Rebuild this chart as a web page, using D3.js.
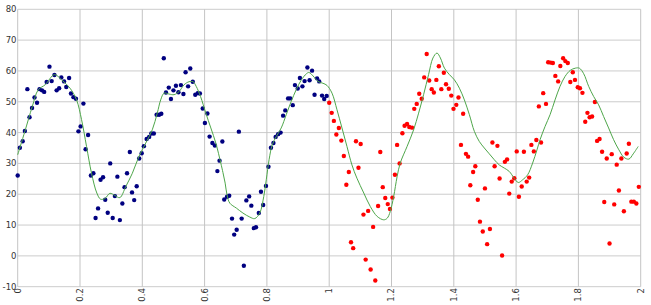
<!DOCTYPE html>
<html><head><meta charset="utf-8">
<script src="https://cdn.jsdelivr.net/npm/d3@7"></script>
<style>html,body{margin:0;padding:0;background:#fff;}svg{display:block;}</style>
</head><body><svg id="c" width="651" height="305"></svg>
<script>
const blueX=[0.000,0.007,0.016,0.023,0.031,0.038,0.046,0.054,0.062,0.070,0.078,0.085,0.093,0.102,0.109,0.118,0.125,0.133,0.140,0.149,0.156,0.165,0.171,0.179,0.187,0.195,0.202,0.211,0.218,0.226,0.235,0.243,0.250,0.258,0.266,0.274,0.281,0.289,0.297,0.305,0.312,0.320,0.328,0.336,0.343,0.351,0.360,0.367,0.374,0.382,0.390,0.398,0.405,0.414,0.422,0.429,0.437,0.446,0.454,0.461,0.469,0.476,0.485,0.492,0.500,0.508,0.516,0.524,0.532,0.539,0.547,0.554,0.562,0.570,0.578,0.585,0.594,0.601,0.609,0.616,0.625,0.633,0.641,0.648,0.657,0.663,0.672,0.679,0.688,0.695,0.703,0.710,0.719,0.726,0.734,0.743,0.750,0.758,0.765,0.774,0.781,0.788,0.797,0.805,0.813,0.821,0.828,0.836,0.844,0.852,0.859,0.868,0.875,0.883,0.890,0.899,0.906,0.914,0.921,0.930,0.937,0.945,0.953,0.961,0.968,0.977,0.984,0.992];
const blueY=[26.1,35.1,37.2,40.5,54.1,45.0,48.0,51.4,49.7,54.1,53.7,53.2,56.4,61.4,56.7,58.7,53.7,54.4,57.9,56.6,54.8,57.7,52.7,51.5,51.0,40.4,42.0,49.4,34.6,39.2,26.1,26.8,12.3,15.4,24.7,25.5,18.2,14.0,30.0,12.3,19.4,25.7,11.6,17.0,22.3,26.8,33.7,20.6,18.1,22.6,31.6,33.3,35.6,37.9,38.6,39.7,39.7,45.8,45.8,46.1,64.1,53.0,54.6,50.9,53.7,55.2,53.1,55.4,52.5,59.6,55.0,60.8,56.5,52.3,52.8,52.7,47.8,43.1,46.2,38.7,36.6,35.8,27.5,30.9,37.1,18.3,19.2,19.5,12.1,6.9,8.5,40.3,12.1,-3.2,18.0,19.3,16.3,9.0,9.3,13.9,20.8,16.5,22.7,28.9,35.1,36.6,38.6,39.5,40.0,45.5,47.2,51.1,51.1,48.9,55.4,54.3,57.7,55.0,56.7,61.1,57.0,60.1,52.3,57.6,56.6,52.0,50.9,51.9];
const redX=[1.000,1.008,1.015,1.023,1.031,1.039,1.047,1.055,1.063,1.070,1.077,1.086,1.094,1.101,1.110,1.117,1.125,1.133,1.141,1.148,1.157,1.164,1.172,1.180,1.188,1.195,1.203,1.211,1.218,1.226,1.235,1.242,1.250,1.257,1.266,1.273,1.281,1.289,1.297,1.305,1.313,1.321,1.329,1.336,1.344,1.352,1.360,1.368,1.375,1.384,1.392,1.399,1.408,1.415,1.423,1.430,1.439,1.446,1.453,1.462,1.469,1.477,1.484,1.493,1.500,1.507,1.516,1.524,1.531,1.540,1.547,1.555,1.564,1.571,1.578,1.586,1.594,1.602,1.609,1.618,1.625,1.634,1.642,1.649,1.657,1.665,1.673,1.680,1.687,1.696,1.703,1.711,1.718,1.726,1.735,1.742,1.751,1.758,1.766,1.774,1.782,1.789,1.798,1.805,1.813,1.822,1.829,1.836,1.844,1.853,1.860,1.868,1.876,1.883,1.891,1.900,1.907,1.915,1.923,1.930,1.938,1.946,1.955,1.962,1.970,1.978,1.986,1.994];
const redY=[49.7,46.4,43.8,39.4,41.5,37.4,32.4,23.1,27.2,4.4,2.5,37.2,28.6,36.3,13.4,-1.2,14.6,-4.4,9.4,-8.0,16.2,33.7,22.3,18.8,16.8,15.2,18.9,26.3,36.0,30.0,39.8,42.2,42.8,41.8,41.6,47.7,49.3,52.6,51.0,57.9,65.5,56.9,54.1,53.0,57.1,61.5,54.1,59.4,55.7,54.2,52.0,47.7,49.0,51.4,36.0,46.1,33.1,32.2,22.9,27.2,29.1,18.2,11.1,7.9,21.9,3.8,8.7,36.8,29.1,35.7,25.1,0.1,30.5,31.3,20.2,24.1,25.2,33.9,19.2,22.5,33.8,24.1,25.4,36.0,33.9,37.6,48.5,36.8,52.8,49.3,62.8,62.7,62.6,58.4,56.6,61.6,64.1,63.2,62.6,56.4,59.6,57.1,54.7,54.4,52.9,43.5,46.4,45.0,45.2,49.9,37.3,37.9,33.8,17.5,31.6,4.0,33.0,16.7,29.6,21.2,31.6,14.5,33.2,36.4,17.6,17.6,17.0,22.4];
const lineX=[0.000,0.023,0.047,0.066,0.088,0.118,0.141,0.168,0.189,0.205,0.221,0.237,0.254,0.266,0.280,0.296,0.312,0.328,0.347,0.368,0.389,0.411,0.432,0.448,0.459,0.470,0.486,0.502,0.518,0.534,0.550,0.563,0.573,0.587,0.604,0.620,0.636,0.652,0.659,0.666,0.672,0.681,0.702,0.723,0.745,0.761,0.777,0.790,0.798,0.807,0.817,0.830,0.846,0.862,0.878,0.894,0.910,0.927,0.935,0.948,0.964,0.980,0.993,1.009,1.025,1.041,1.057,1.073,1.089,1.111,1.132,1.154,1.175,1.186,1.196,1.207,1.218,1.228,1.250,1.271,1.287,1.303,1.319,1.333,1.346,1.357,1.370,1.386,1.402,1.418,1.434,1.450,1.466,1.482,1.498,1.514,1.530,1.546,1.562,1.578,1.594,1.607,1.621,1.637,1.653,1.667,1.677,1.693,1.709,1.725,1.741,1.757,1.774,1.790,1.803,1.817,1.833,1.849,1.865,1.881,1.897,1.913,1.930,1.946,1.962,1.976,1.992];
const lineY=[32.8,40.4,48.5,53.9,55.5,58.8,57.1,54.4,50.6,44.2,35.5,26.8,20.4,18.4,18.6,20.3,19.6,18.9,22.5,26.8,32.2,36.6,40.9,46.3,50.6,52.8,52.5,52.3,53.3,55.5,56.5,56.5,55.0,51.7,46.3,41.5,36.6,30.1,27.0,23.6,19.8,17.1,15.5,13.9,12.6,12.1,13.9,19.3,24.7,31.2,36.0,38.7,41.5,45.8,50.1,53.9,57.0,59.1,59.5,58.4,56.6,56.0,55.3,52.8,47.4,41.5,35.5,29.5,25.2,20.4,16.0,12.8,11.7,12.2,14.4,19.3,25.7,30.1,35.5,40.9,46.3,52.3,58.8,64.2,65.8,64.2,60.9,58.8,57.1,54.4,50.6,45.8,40.4,37.1,35.0,33.1,31.2,29.5,28.5,27.4,25.2,23.8,24.7,26.3,30.1,34.4,37.7,42.0,45.8,50.6,55.0,58.2,60.2,60.9,60.9,59.1,55.0,51.7,49.0,45.2,41.5,37.7,34.4,32.0,31.4,33.1,35.5];
const xTicks=[0,0.2,0.4,0.6,0.8,1,1.2,1.4,1.6,1.8,2];
const yTicks=[-10,0,10,20,30,40,50,60,70,80];

const svg=d3.select("#c");
const x=d3.scaleLinear().domain([0,2]).range([17.7,640.7]);
const y=d3.scaleLinear().domain([-10,80]).range([286.7,9.3]);
const font="DejaVu Sans, sans-serif";

// grid
svg.append("g").selectAll("line").data(yTicks).join("line")
  .attr("x1",x(0)).attr("x2",x(2)).attr("y1",d=>y(d)).attr("y2",d=>y(d))
  .attr("stroke","#cccccc").attr("stroke-width",1);
svg.append("g").selectAll("line").data(xTicks).join("line")
  .attr("y1",y(-10)).attr("y2",y(80)).attr("x1",d=>x(d)).attr("x2",d=>x(d))
  .attr("stroke","#c4c4c4").attr("stroke-width",1);

// y labels
svg.append("g").selectAll("text").data(yTicks).join("text")
  .attr("x",16.5).attr("y",d=>y(d)).attr("dy","0.35em").attr("text-anchor","end")
  .attr("font-family",font).attr("font-size",8.5).attr("fill","#333")
  .text(d=>d);
// x labels rotated
svg.append("g").selectAll("text").data(xTicks).join("text")
  .attr("transform",d=>`translate(${x(d)},${y(-10)+1.5}) rotate(-90)`)
  .attr("dy","0.35em").attr("text-anchor","end")
  .attr("font-family",font).attr("font-size",8.5).attr("fill","#333")
  .text(d=>d);

// points
const blue=blueX.map((v,i)=>[v,blueY[i]]);
const red=redX.map((v,i)=>[v,redY[i]]);
svg.append("g").selectAll("circle").data(blue).join("circle")
  .attr("cx",d=>x(d[0])).attr("cy",d=>y(d[1])).attr("r",2.2).attr("fill","#000080");
svg.append("g").selectAll("circle").data(red).join("circle")
  .attr("cx",d=>x(d[0])).attr("cy",d=>y(d[1])).attr("r",2.2).attr("fill","#ff0000");

// line
const line=d3.line().x(d=>x(d[0])).y(d=>y(d[1])).curve(d3.curveCatmullRom.alpha(0.5));
svg.append("path").datum(lineX.map((v,i)=>[v,lineY[i]]))
  .attr("d",line).attr("fill","none").attr("stroke","#4ea64a").attr("stroke-width",1);
</script></body></html>
